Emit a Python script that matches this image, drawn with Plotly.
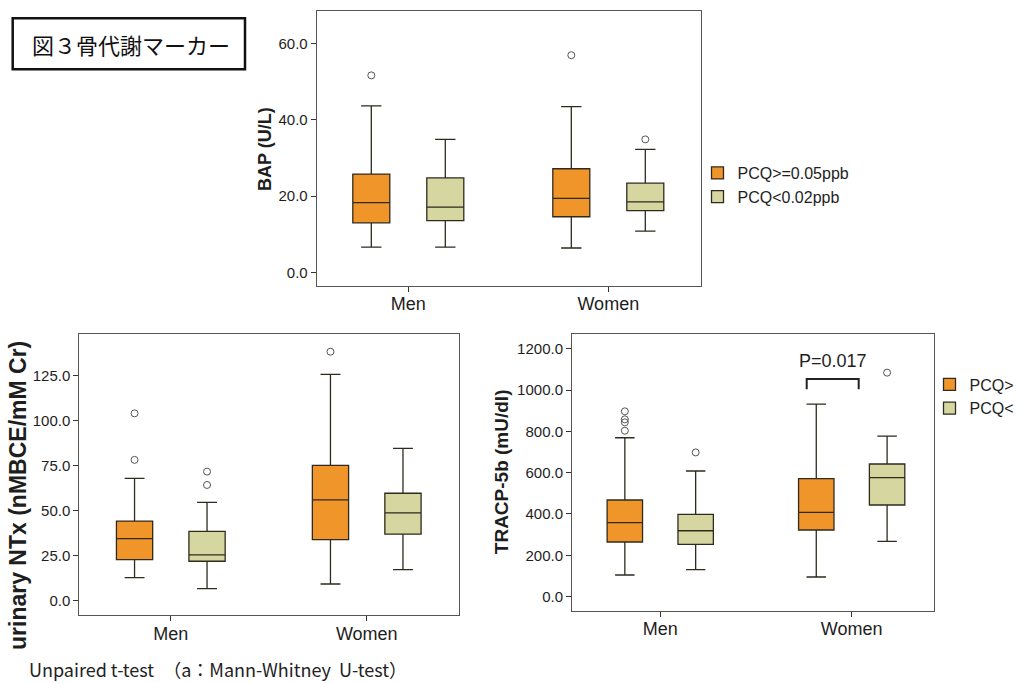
import plotly.graph_objects as go

W, H = 1021, 683

categories = ["Men", "Women"]
legend_names_full = ["PCQ>=0.05ppb", "PCQ<0.02ppb"]
legend_names_cut = ["PCQ>", "PCQ<"]

# BAP (U/L)
bap_high_q1 = [13.0, 14.6]
bap_high_med = [18.3, 19.4]
bap_high_q3 = [25.8, 27.2]
bap_high_lo = [6.6, 6.4]
bap_high_hi = [43.7, 43.5]
bap_high_out = [[51.7], [57.0]]
bap_low_q1 = [13.6, 16.2]
bap_low_med = [17.1, 18.5]
bap_low_q3 = [24.8, 23.4]
bap_low_lo = [6.6, 10.8]
bap_low_hi = [34.9, 32.3]
bap_low_out = [[None], [34.9]]

# urinary NTx (nMBCE/mM Cr)
ntx_high_q1 = [22.9, 34.0]
ntx_high_med = [34.6, 56.0]
ntx_high_q3 = [44.3, 75.2]
ntx_high_lo = [12.9, 9.4]
ntx_high_hi = [68.0, 125.6]
ntx_high_out = [[78.2, 104.0], [138.2]]
ntx_low_q1 = [22.0, 37.0]
ntx_low_med = [25.5, 48.8]
ntx_low_q3 = [38.6, 59.7]
ntx_low_lo = [6.8, 17.4]
ntx_low_hi = [54.7, 84.6]
ntx_low_out = [[64.3, 71.7], [None]]

# TRACP-5b (mU/dl)
tr_high_q1 = [264.5, 322.6]
tr_high_med = [358.0, 408.0]
tr_high_q3 = [467.7, 571.0]
tr_high_lo = [104.8, 95.2]
tr_high_hi = [769.0, 932.0]
tr_high_out = [[803.0, 843.5, 858.0, 896.8], [None]]
tr_low_q1 = [253.0, 443.5]
tr_low_med = [319.0, 575.8]
tr_low_q3 = [398.0, 642.0]
tr_low_lo = [130.6, 267.7]
tr_low_hi = [608.0, 777.0]
tr_low_out = [[698.0], [1083.9]]

ORANGE = "#F0952A"
GREEN = "#D6D6A0"
LINE = "#2e2a1e"
TXT = "#1e1e1e"
FONT = "Arial, Liberation Sans, sans-serif"


def px_x(v):
    return v / W


def px_y(v):
    return 1 - v / H


fig = go.Figure()

panels = [
    ("x", "y", "legend", True, legend_names_full,
     [(bap_high_q1, bap_high_med, bap_high_q3, bap_high_lo, bap_high_hi, bap_high_out),
      (bap_low_q1, bap_low_med, bap_low_q3, bap_low_lo, bap_low_hi, bap_low_out)]),
    ("x2", "y2", "legend", False, legend_names_full,
     [(ntx_high_q1, ntx_high_med, ntx_high_q3, ntx_high_lo, ntx_high_hi, ntx_high_out),
      (ntx_low_q1, ntx_low_med, ntx_low_q3, ntx_low_lo, ntx_low_hi, ntx_low_out)]),
    ("x3", "y3", "legend2", True, legend_names_cut,
     [(tr_high_q1, tr_high_med, tr_high_q3, tr_high_lo, tr_high_hi, tr_high_out),
      (tr_low_q1, tr_low_med, tr_low_q3, tr_low_lo, tr_low_hi, tr_low_out)]),
]

for xa, ya, leg, show, names, groups in panels:
    for gi, (q1, med, q3, lo, hi, out) in enumerate(groups):
        fig.add_trace(go.Box(
            x=categories, q1=q1, median=med, q3=q3,
            lowerfence=lo, upperfence=hi, y=out,
            orientation="v",
            boxpoints="outliers", pointpos=0, jitter=0,
            fillcolor=ORANGE if gi == 0 else GREEN,
            line=dict(color=LINE, width=1.3),
            marker=dict(symbol="circle-open", size=7, color="#555555",
                        line=dict(width=1)),
            whiskerwidth=0.55,
            offsetgroup=str(gi),
            name=names[gi],
            legend=leg, showlegend=show,
            xaxis=xa, yaxis=ya,
        ))

axis_common = dict(showline=True, mirror=True, linecolor="#555555", linewidth=1,
                   ticks="outside", ticklen=5, tickcolor="#333333",
                   showgrid=False, zeroline=False)
xaxis_common = dict(type="category", tickfont=dict(size=18), ticklabelstandoff=-3,
                    **axis_common)
yaxis_common = dict(tickformat=".1f", tick0=0, tickfont=dict(size=15), **axis_common)

fig.update_layout(
    width=W, height=H,
    margin=dict(l=0, r=0, t=0, b=0, autoexpand=False),
    paper_bgcolor="white", plot_bgcolor="white",
    boxmode="group", boxgap=0.26, boxgroupgap=0.5,
    font=dict(family=FONT, color=TXT),
    xaxis=dict(domain=[px_x(316.7), px_x(701.3)], anchor="y",
               range=[-0.458, 1.465], **xaxis_common),
    yaxis=dict(domain=[px_y(285.7), px_y(11)], anchor="x", range=[-3.5, 68.6],
               dtick=20, **yaxis_common),
    xaxis2=dict(domain=[px_x(79.3), px_x(459)], anchor="y2",
                range=[-0.467, 1.471], **xaxis_common),
    yaxis2=dict(domain=[px_y(615), px_y(334)], anchor="x2", range=[-7.8, 148],
                dtick=25, **yaxis_common),
    xaxis3=dict(domain=[px_x(572), px_x(934)], anchor="y3",
                range=[-0.461, 1.43], **xaxis_common),
    yaxis3=dict(domain=[px_y(610.7), px_y(334)], anchor="x3", range=[-68, 1271],
                dtick=200, **yaxis_common),
    legend=dict(x=px_x(697.5), y=px_y(156), xanchor="left", yanchor="top",
                bgcolor="rgba(0,0,0,0)", font=dict(size=16, family=FONT, color=TXT),
                tracegroupgap=0, traceorder="normal"),
    legend2=dict(x=px_x(929.5), y=px_y(367.5), xanchor="left", yanchor="top",
                 bgcolor="rgba(0,0,0,0)", font=dict(size=16, family=FONT, color=TXT),
                 tracegroupgap=0, traceorder="normal"),
)

# y-axis titles
ytitles = [
    ("BAP (U/L)", 265, 149, 18),
    ("urinary NTx (nMBCE/mM Cr)", 18, 496, 23),
    ("TRACP-5b (mU/dl)", 501.7, 471.5, 19),
]
for text, cx, cy, size in ytitles:
    fig.add_annotation(text="<b>%s</b>" % text, xref="paper", yref="paper",
                       x=px_x(cx), y=px_y(cy), textangle=-90, showarrow=False,
                       xanchor="center", yanchor="middle",
                       font=dict(size=size, family=FONT, color=TXT))

# title box
fig.add_shape(type="rect", xref="paper", yref="paper",
              x0=px_x(12.7), x1=px_x(245), y0=px_y(69.3), y1=px_y(18.3),
              line=dict(color="#111111", width=2.5), fillcolor="rgba(0,0,0,0)")
fig.add_annotation(text="図３骨代謝マーカー", xref="paper", yref="paper",
                   x=px_x(131), y=px_y(43.5), showarrow=False,
                   xanchor="center", yanchor="middle",
                   font=dict(size=22, family="Noto Sans CJK JP", color="#111111"))

# significance bracket
fig.add_shape(type="path", xref="paper", yref="paper",
              path="M %f,%f L %f,%f L %f,%f L %f,%f" % (
                  px_x(806.7), px_y(389.3), px_x(806.7), px_y(379),
                  px_x(858.7), px_y(379), px_x(858.7), px_y(389.3)),
              line=dict(color="#222222", width=2))
fig.add_annotation(text="P=0.017", xref="paper", yref="paper",
                   x=px_x(832.5), y=px_y(360.7), showarrow=False,
                   xanchor="center", yanchor="middle",
                   font=dict(size=18, family=FONT, color=TXT))

# footnote
fig.add_annotation(text="Unpaired t-test　（a：Mann-Whitney  U-test）", xref="paper", yref="paper",
                   x=px_x(26.7), y=px_y(668.5), showarrow=False,
                   xanchor="left", yanchor="middle",
                   font=dict(size=18, family="Noto Sans CJK JP", color="#222222"))

fig.write_html("out.html")
